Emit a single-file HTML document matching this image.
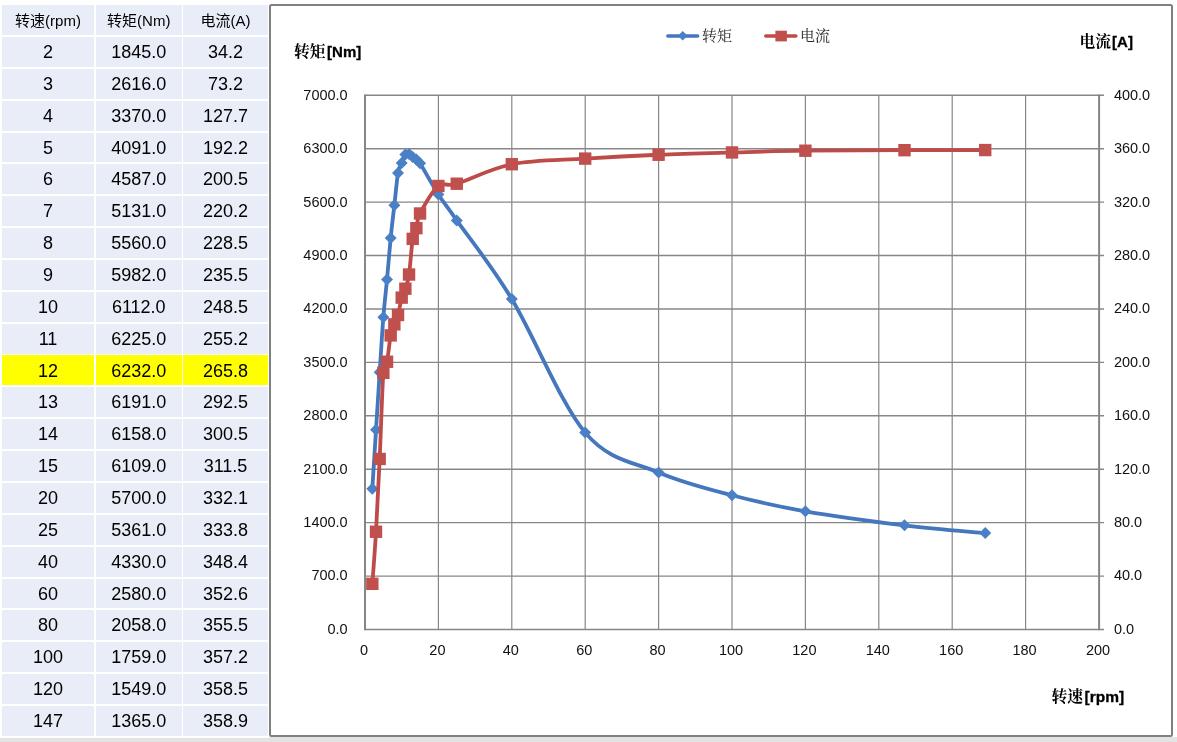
<!DOCTYPE html>
<html><head><meta charset="utf-8"><title>chart</title>
<style>
html,body{margin:0;padding:0;background:#fff;}
body{width:1177px;height:742px;overflow:hidden;position:relative;}
.bot{position:absolute;left:0;top:738px;width:1177px;height:4px;background:#e3e3e3;}
.bot2{position:absolute;left:269px;top:737px;width:908px;height:5px;background:#e3e3e3;}
.c{position:absolute;background:#e9edf7;font-family:"Liberation Sans","Noto Sans CJK SC",sans-serif;font-size:18px;color:#000;text-align:center;display:flex;align-items:center;justify-content:center;line-height:1;}
.h{font-size:15px;}
.y{background:#ffff00;padding-top:1px;box-sizing:border-box;}
</style></head><body>
<div class="bot"></div><div class="bot2"></div>
<div class="c h" style="left:2px;top:5px;width:92px;height:30px">转速(rpm)</div>
<div class="c h" style="left:96px;top:5px;width:85.5px;height:30px">转矩(Nm)</div>
<div class="c h" style="left:183px;top:5px;width:85px;height:30px">电流(A)</div>
<div class="c" style="left:2px;top:37px;width:92px;height:30px">2</div>
<div class="c" style="left:96px;top:37px;width:85.5px;height:30px">1845.0</div>
<div class="c" style="left:183px;top:37px;width:85px;height:30px">34.2</div>
<div class="c" style="left:2px;top:69px;width:92px;height:30px">3</div>
<div class="c" style="left:96px;top:69px;width:85.5px;height:30px">2616.0</div>
<div class="c" style="left:183px;top:69px;width:85px;height:30px">73.2</div>
<div class="c" style="left:2px;top:101px;width:92px;height:30px">4</div>
<div class="c" style="left:96px;top:101px;width:85.5px;height:30px">3370.0</div>
<div class="c" style="left:183px;top:101px;width:85px;height:30px">127.7</div>
<div class="c" style="left:2px;top:133px;width:92px;height:29px">5</div>
<div class="c" style="left:96px;top:133px;width:85.5px;height:29px">4091.0</div>
<div class="c" style="left:183px;top:133px;width:85px;height:29px">192.2</div>
<div class="c" style="left:2px;top:164px;width:92px;height:30px">6</div>
<div class="c" style="left:96px;top:164px;width:85.5px;height:30px">4587.0</div>
<div class="c" style="left:183px;top:164px;width:85px;height:30px">200.5</div>
<div class="c" style="left:2px;top:196px;width:92px;height:30px">7</div>
<div class="c" style="left:96px;top:196px;width:85.5px;height:30px">5131.0</div>
<div class="c" style="left:183px;top:196px;width:85px;height:30px">220.2</div>
<div class="c" style="left:2px;top:228px;width:92px;height:30px">8</div>
<div class="c" style="left:96px;top:228px;width:85.5px;height:30px">5560.0</div>
<div class="c" style="left:183px;top:228px;width:85px;height:30px">228.5</div>
<div class="c" style="left:2px;top:260px;width:92px;height:30px">9</div>
<div class="c" style="left:96px;top:260px;width:85.5px;height:30px">5982.0</div>
<div class="c" style="left:183px;top:260px;width:85px;height:30px">235.5</div>
<div class="c" style="left:2px;top:292px;width:92px;height:30px">10</div>
<div class="c" style="left:96px;top:292px;width:85.5px;height:30px">6112.0</div>
<div class="c" style="left:183px;top:292px;width:85px;height:30px">248.5</div>
<div class="c" style="left:2px;top:324px;width:92px;height:30px">11</div>
<div class="c" style="left:96px;top:324px;width:85.5px;height:30px">6225.0</div>
<div class="c" style="left:183px;top:324px;width:85px;height:30px">255.2</div>
<div class="c y" style="left:2px;top:355px;width:92px;height:30px">12</div>
<div class="c y" style="left:96px;top:355px;width:85.5px;height:30px">6232.0</div>
<div class="c y" style="left:183px;top:355px;width:85px;height:30px">265.8</div>
<div class="c" style="left:2px;top:387px;width:92px;height:30px">13</div>
<div class="c" style="left:96px;top:387px;width:85.5px;height:30px">6191.0</div>
<div class="c" style="left:183px;top:387px;width:85px;height:30px">292.5</div>
<div class="c" style="left:2px;top:419px;width:92px;height:30px">14</div>
<div class="c" style="left:96px;top:419px;width:85.5px;height:30px">6158.0</div>
<div class="c" style="left:183px;top:419px;width:85px;height:30px">300.5</div>
<div class="c" style="left:2px;top:451px;width:92px;height:30px">15</div>
<div class="c" style="left:96px;top:451px;width:85.5px;height:30px">6109.0</div>
<div class="c" style="left:183px;top:451px;width:85px;height:30px">311.5</div>
<div class="c" style="left:2px;top:483px;width:92px;height:30px">20</div>
<div class="c" style="left:96px;top:483px;width:85.5px;height:30px">5700.0</div>
<div class="c" style="left:183px;top:483px;width:85px;height:30px">332.1</div>
<div class="c" style="left:2px;top:515px;width:92px;height:30px">25</div>
<div class="c" style="left:96px;top:515px;width:85.5px;height:30px">5361.0</div>
<div class="c" style="left:183px;top:515px;width:85px;height:30px">333.8</div>
<div class="c" style="left:2px;top:547px;width:92px;height:30px">40</div>
<div class="c" style="left:96px;top:547px;width:85.5px;height:30px">4330.0</div>
<div class="c" style="left:183px;top:547px;width:85px;height:30px">348.4</div>
<div class="c" style="left:2px;top:579px;width:92px;height:29px">60</div>
<div class="c" style="left:96px;top:579px;width:85.5px;height:29px">2580.0</div>
<div class="c" style="left:183px;top:579px;width:85px;height:29px">352.6</div>
<div class="c" style="left:2px;top:610px;width:92px;height:30px">80</div>
<div class="c" style="left:96px;top:610px;width:85.5px;height:30px">2058.0</div>
<div class="c" style="left:183px;top:610px;width:85px;height:30px">355.5</div>
<div class="c" style="left:2px;top:642px;width:92px;height:30px">100</div>
<div class="c" style="left:96px;top:642px;width:85.5px;height:30px">1759.0</div>
<div class="c" style="left:183px;top:642px;width:85px;height:30px">357.2</div>
<div class="c" style="left:2px;top:674px;width:92px;height:30px">120</div>
<div class="c" style="left:96px;top:674px;width:85.5px;height:30px">1549.0</div>
<div class="c" style="left:183px;top:674px;width:85px;height:30px">358.5</div>
<div class="c" style="left:2px;top:706px;width:92px;height:30px">147</div>
<div class="c" style="left:96px;top:706px;width:85.5px;height:30px">1365.0</div>
<div class="c" style="left:183px;top:706px;width:85px;height:30px">358.9</div>
<svg width="1177" height="742" viewBox="0 0 1177 742" style="position:absolute;left:0;top:0">
<rect x="270" y="5" width="902" height="731" rx="1.5" ry="1.5" fill="#fff" stroke="#808080" stroke-width="2"/>
<line x1="438.40" y1="95.30" x2="438.40" y2="629.50" stroke="#878787" stroke-width="1.2"/>
<line x1="511.80" y1="95.30" x2="511.80" y2="629.50" stroke="#878787" stroke-width="1.2"/>
<line x1="585.20" y1="95.30" x2="585.20" y2="629.50" stroke="#878787" stroke-width="1.2"/>
<line x1="658.60" y1="95.30" x2="658.60" y2="629.50" stroke="#878787" stroke-width="1.2"/>
<line x1="732.00" y1="95.30" x2="732.00" y2="629.50" stroke="#878787" stroke-width="1.2"/>
<line x1="805.40" y1="95.30" x2="805.40" y2="629.50" stroke="#878787" stroke-width="1.2"/>
<line x1="878.80" y1="95.30" x2="878.80" y2="629.50" stroke="#878787" stroke-width="1.2"/>
<line x1="952.20" y1="95.30" x2="952.20" y2="629.50" stroke="#878787" stroke-width="1.2"/>
<line x1="1025.60" y1="95.30" x2="1025.60" y2="629.50" stroke="#878787" stroke-width="1.2"/>
<line x1="365.00" y1="576.08" x2="1104.00" y2="576.08" stroke="#878787" stroke-width="1.4"/>
<line x1="365.00" y1="522.66" x2="1104.00" y2="522.66" stroke="#878787" stroke-width="1.4"/>
<line x1="365.00" y1="469.24" x2="1104.00" y2="469.24" stroke="#878787" stroke-width="1.4"/>
<line x1="365.00" y1="415.82" x2="1104.00" y2="415.82" stroke="#878787" stroke-width="1.4"/>
<line x1="365.00" y1="362.40" x2="1104.00" y2="362.40" stroke="#878787" stroke-width="1.4"/>
<line x1="365.00" y1="308.98" x2="1104.00" y2="308.98" stroke="#878787" stroke-width="1.4"/>
<line x1="365.00" y1="255.56" x2="1104.00" y2="255.56" stroke="#878787" stroke-width="1.4"/>
<line x1="365.00" y1="202.14" x2="1104.00" y2="202.14" stroke="#878787" stroke-width="1.4"/>
<line x1="365.00" y1="148.72" x2="1104.00" y2="148.72" stroke="#878787" stroke-width="1.4"/>
<line x1="365.00" y1="95.30" x2="1104.00" y2="95.30" stroke="#878787" stroke-width="1.4"/>
<line x1="1099.10" y1="94.60" x2="1099.10" y2="630.20" stroke="#868686" stroke-width="2"/>
<line x1="365.00" y1="94.60" x2="365.00" y2="630.20" stroke="#868686" stroke-width="2"/>
<line x1="365.00" y1="629.50" x2="1104.00" y2="629.50" stroke="#868686" stroke-width="1.6"/>
<g font-family="Liberation Sans, sans-serif" font-size="14.5" fill="#111">
<text x="347.7" y="633.90" text-anchor="end">0.0</text>
<text x="1113.9" y="633.90">0.0</text>
<text x="347.7" y="580.48" text-anchor="end">700.0</text>
<text x="1113.9" y="580.48">40.0</text>
<text x="347.7" y="527.06" text-anchor="end">1400.0</text>
<text x="1113.9" y="527.06">80.0</text>
<text x="347.7" y="473.64" text-anchor="end">2100.0</text>
<text x="1113.9" y="473.64">120.0</text>
<text x="347.7" y="420.22" text-anchor="end">2800.0</text>
<text x="1113.9" y="420.22">160.0</text>
<text x="347.7" y="366.80" text-anchor="end">3500.0</text>
<text x="1113.9" y="366.80">200.0</text>
<text x="347.7" y="313.38" text-anchor="end">4200.0</text>
<text x="1113.9" y="313.38">240.0</text>
<text x="347.7" y="259.96" text-anchor="end">4900.0</text>
<text x="1113.9" y="259.96">280.0</text>
<text x="347.7" y="206.54" text-anchor="end">5600.0</text>
<text x="1113.9" y="206.54">320.0</text>
<text x="347.7" y="153.12" text-anchor="end">6300.0</text>
<text x="1113.9" y="153.12">360.0</text>
<text x="347.7" y="99.70" text-anchor="end">7000.0</text>
<text x="1113.9" y="99.70">400.0</text>
<text x="364.00" y="655" text-anchor="middle">0</text>
<text x="437.40" y="655" text-anchor="middle">20</text>
<text x="510.80" y="655" text-anchor="middle">40</text>
<text x="584.20" y="655" text-anchor="middle">60</text>
<text x="657.60" y="655" text-anchor="middle">80</text>
<text x="731.00" y="655" text-anchor="middle">100</text>
<text x="804.40" y="655" text-anchor="middle">120</text>
<text x="877.80" y="655" text-anchor="middle">140</text>
<text x="951.20" y="655" text-anchor="middle">160</text>
<text x="1024.60" y="655" text-anchor="middle">180</text>
<text x="1098.00" y="655" text-anchor="middle">200</text>
</g>
<g font-weight="bold" fill="#000">
<text x="294" y="56.6" font-size="15.8" font-family="Liberation Serif, Noto Serif CJK SC, serif">转矩<tspan font-family="Liberation Sans, sans-serif" font-weight="bold" stroke="#000" stroke-width="0.3" font-size="15" dx="1.5">[Nm]</tspan></text>
<text x="1079.5" y="46.6" font-size="15.8" font-family="Liberation Serif, Noto Serif CJK SC, serif">电流<tspan font-family="Liberation Sans, sans-serif" font-weight="bold" stroke="#000" stroke-width="0.3" font-size="15" dx="1">[A]</tspan></text>
<text x="1051.5" y="702" font-size="15.8" font-family="Liberation Serif, Noto Serif CJK SC, serif">转速<tspan font-family="Liberation Sans, sans-serif" font-weight="bold" stroke="#000" stroke-width="0.3" font-size="15.5" dx="1.5">[rpm]</tspan></text>
</g>
<line x1="667.9" y1="36" x2="697.6" y2="36" stroke="#4477bd" stroke-width="3.6" stroke-linecap="round"/>
<path d="M682.7,31 L687.5,35.8 L682.7,40.6 L677.9,35.8 Z" fill="#4a80c6"/>
<line x1="765.8" y1="36" x2="795.8" y2="36" stroke="#be4b48" stroke-width="3.6" stroke-linecap="round"/>
<rect x="775.4" y="30.7" width="11.5" height="10.7" fill="#c0504d"/>
<g font-size="15" font-family="Liberation Serif, Noto Serif CJK SC, serif" fill="#262626">
<text x="702" y="40.5">转矩</text>
<text x="800" y="40.5">电流</text>
</g>
<path d="M372.34,488.70 C372.95,478.89 374.79,449.26 376.01,429.86 C377.23,410.47 378.46,391.08 379.68,372.32 C380.90,353.56 382.13,332.78 383.35,317.30 C384.57,301.82 385.80,292.67 387.02,279.45 C388.24,266.22 389.47,250.31 390.69,237.93 C391.91,225.56 393.14,216.02 394.36,205.19 C395.58,194.37 396.81,180.01 398.03,172.99 C399.25,165.97 400.48,166.16 401.70,163.07 C402.92,159.98 404.15,155.97 405.37,154.44 C406.59,152.92 407.82,153.48 409.04,153.91 C410.26,154.34 411.49,156.10 412.71,157.04 C413.93,157.98 415.16,158.51 416.38,159.56 C417.60,160.60 416.38,157.47 420.05,163.30 C423.72,169.12 432.28,184.99 438.40,194.51 C444.52,204.02 444.52,202.95 456.75,220.38 C468.98,237.80 490.39,263.69 511.80,299.06 C533.21,334.43 560.73,403.71 585.20,432.61 C609.67,461.51 634.13,462.00 658.60,472.45 C683.07,482.89 707.53,488.79 732.00,495.26 C756.47,501.74 776.65,506.28 805.40,511.29 C834.15,516.30 874.52,521.69 904.49,525.33 C934.46,528.97 971.77,531.82 985.23,533.12" fill="none" stroke="#4477bd" stroke-width="3.8" stroke-linejoin="round" stroke-linecap="round"/>
<path d="M372.34,482.70 l6,6 l-6,6 l-6,-6 Z" fill="#4a80c6"/>
<path d="M376.01,423.86 l6,6 l-6,6 l-6,-6 Z" fill="#4a80c6"/>
<path d="M379.68,366.32 l6,6 l-6,6 l-6,-6 Z" fill="#4a80c6"/>
<path d="M383.35,311.30 l6,6 l-6,6 l-6,-6 Z" fill="#4a80c6"/>
<path d="M387.02,273.45 l6,6 l-6,6 l-6,-6 Z" fill="#4a80c6"/>
<path d="M390.69,231.93 l6,6 l-6,6 l-6,-6 Z" fill="#4a80c6"/>
<path d="M394.36,199.19 l6,6 l-6,6 l-6,-6 Z" fill="#4a80c6"/>
<path d="M398.03,166.99 l6,6 l-6,6 l-6,-6 Z" fill="#4a80c6"/>
<path d="M401.70,157.07 l6,6 l-6,6 l-6,-6 Z" fill="#4a80c6"/>
<path d="M405.37,148.44 l6,6 l-6,6 l-6,-6 Z" fill="#4a80c6"/>
<path d="M409.04,147.91 l6,6 l-6,6 l-6,-6 Z" fill="#4a80c6"/>
<path d="M412.71,151.04 l6,6 l-6,6 l-6,-6 Z" fill="#4a80c6"/>
<path d="M416.38,153.56 l6,6 l-6,6 l-6,-6 Z" fill="#4a80c6"/>
<path d="M420.05,157.30 l6,6 l-6,6 l-6,-6 Z" fill="#4a80c6"/>
<path d="M438.40,188.51 l6,6 l-6,6 l-6,-6 Z" fill="#4a80c6"/>
<path d="M456.75,214.38 l6,6 l-6,6 l-6,-6 Z" fill="#4a80c6"/>
<path d="M511.80,293.06 l6,6 l-6,6 l-6,-6 Z" fill="#4a80c6"/>
<path d="M585.20,426.61 l6,6 l-6,6 l-6,-6 Z" fill="#4a80c6"/>
<path d="M658.60,466.45 l6,6 l-6,6 l-6,-6 Z" fill="#4a80c6"/>
<path d="M732.00,489.26 l6,6 l-6,6 l-6,-6 Z" fill="#4a80c6"/>
<path d="M805.40,505.29 l6,6 l-6,6 l-6,-6 Z" fill="#4a80c6"/>
<path d="M904.49,519.33 l6,6 l-6,6 l-6,-6 Z" fill="#4a80c6"/>
<path d="M985.23,527.12 l6,6 l-6,6 l-6,-6 Z" fill="#4a80c6"/>
<path d="M372.34,583.83 C372.95,575.15 374.79,552.55 376.01,531.74 C377.23,510.93 378.46,485.44 379.68,458.96 C380.90,432.47 382.13,389.02 383.35,372.82 C384.57,356.61 385.80,367.96 387.02,361.73 C388.24,355.50 389.47,341.66 390.69,335.42 C391.91,329.19 393.14,327.74 394.36,324.34 C395.58,320.93 396.81,319.44 398.03,314.99 C399.25,310.54 400.48,302.01 401.70,297.63 C402.92,293.24 404.15,292.53 405.37,288.68 C406.59,284.83 407.82,282.83 409.04,274.52 C410.26,266.22 411.49,246.59 412.71,238.87 C413.93,231.14 415.16,232.41 416.38,228.18 C417.60,223.95 416.38,220.53 420.05,213.49 C423.72,206.46 432.28,190.94 438.40,185.98 C444.52,181.02 444.52,187.34 456.75,183.71 C468.98,180.08 490.39,168.40 511.80,164.21 C533.21,160.03 560.73,160.18 585.20,158.60 C609.67,157.02 634.13,155.75 658.60,154.73 C683.07,153.71 707.53,153.13 732.00,152.46 C756.47,151.79 776.65,151.10 805.40,150.72 C834.15,150.34 874.52,150.30 904.49,150.19 C934.46,150.08 971.77,150.08 985.23,150.06" fill="none" stroke="#be4b48" stroke-width="3.8" stroke-linejoin="round" stroke-linecap="round"/>
<rect x="366.14" y="577.63" width="12.4" height="12.4" fill="#c0504d"/>
<rect x="369.81" y="525.54" width="12.4" height="12.4" fill="#c0504d"/>
<rect x="373.48" y="452.76" width="12.4" height="12.4" fill="#c0504d"/>
<rect x="377.15" y="366.62" width="12.4" height="12.4" fill="#c0504d"/>
<rect x="380.82" y="355.53" width="12.4" height="12.4" fill="#c0504d"/>
<rect x="384.49" y="329.22" width="12.4" height="12.4" fill="#c0504d"/>
<rect x="388.16" y="318.14" width="12.4" height="12.4" fill="#c0504d"/>
<rect x="391.83" y="308.79" width="12.4" height="12.4" fill="#c0504d"/>
<rect x="395.50" y="291.43" width="12.4" height="12.4" fill="#c0504d"/>
<rect x="399.17" y="282.48" width="12.4" height="12.4" fill="#c0504d"/>
<rect x="402.84" y="268.32" width="12.4" height="12.4" fill="#c0504d"/>
<rect x="406.51" y="232.67" width="12.4" height="12.4" fill="#c0504d"/>
<rect x="410.18" y="221.98" width="12.4" height="12.4" fill="#c0504d"/>
<rect x="413.85" y="207.29" width="12.4" height="12.4" fill="#c0504d"/>
<rect x="432.20" y="179.78" width="12.4" height="12.4" fill="#c0504d"/>
<rect x="450.55" y="177.51" width="12.4" height="12.4" fill="#c0504d"/>
<rect x="505.60" y="158.01" width="12.4" height="12.4" fill="#c0504d"/>
<rect x="579.00" y="152.40" width="12.4" height="12.4" fill="#c0504d"/>
<rect x="652.40" y="148.53" width="12.4" height="12.4" fill="#c0504d"/>
<rect x="725.80" y="146.26" width="12.4" height="12.4" fill="#c0504d"/>
<rect x="799.20" y="144.52" width="12.4" height="12.4" fill="#c0504d"/>
<rect x="898.29" y="143.99" width="12.4" height="12.4" fill="#c0504d"/>
<rect x="979.03" y="143.86" width="12.4" height="12.4" fill="#c0504d"/>
</svg>
</body></html>
